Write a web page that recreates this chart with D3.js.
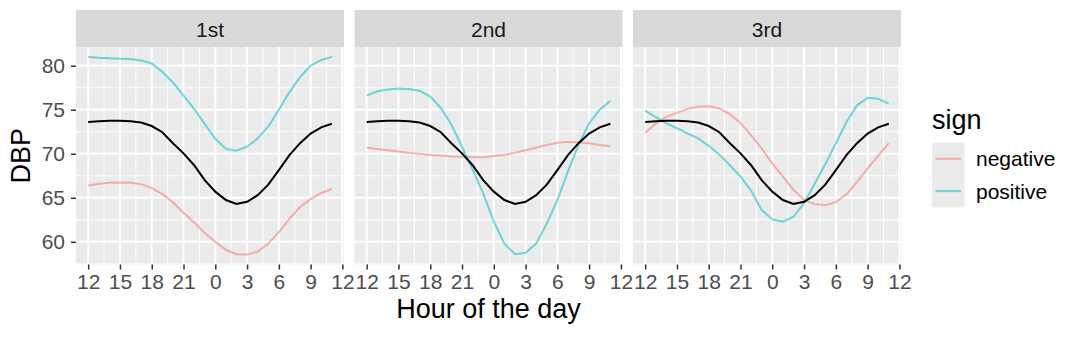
<!DOCTYPE html>
<html lang="en">
<head>
    <meta charset="UTF-8">
    <title>DBP by hour of the day</title>
    <script src="https://d3js.org/d3.v7.min.js"></script>
    <style>
        body { margin: 0; background: #fff; }
        svg text { font-family: "Liberation Sans", Arial, sans-serif; }
    </style>
</head>
<body>
    <div id="chart"></div>
    <script>
        // hours in plotting order (noon to 11 am), x position = index
        const hours = [12, 13, 14, 15, 16, 17, 18, 19, 20, 21, 22, 23, 0, 1, 2, 3, 4, 5, 6, 7, 8, 9, 10, 11];
        const tickPos = [0, 3, 6, 9, 12, 15, 18, 21, 24];
        const tickLabels = ["12", "15", "18", "21", "0", "3", "6", "9", "12"];
        const facets = ["1st", "2nd", "3rd"];
        const signs = ["negative", "positive"];

        // overall mean (black line, same in every panel)
        const overall = [73.6, 73.7, 73.75, 73.75, 73.7, 73.55, 73.15, 72.45, 71.2, 70.05, 68.7, 67.0,
                         65.7, 64.75, 64.3, 64.55, 65.3, 66.5, 68.15, 69.85, 71.2, 72.3, 73.0, 73.4];

        const neg1st = [66.4, 66.6, 66.7, 66.75, 66.7, 66.55, 66.1, 65.45, 64.5, 63.3, 62.2, 61.0,
                        60.0, 59.1, 58.6, 58.55, 58.9, 59.8, 61.1, 62.6, 63.95, 64.85, 65.55, 66.0];
        const pos1st = [81.0, 80.9, 80.85, 80.8, 80.75, 80.6, 80.25, 79.3, 78.1, 76.6, 75.1, 73.4,
                        71.7, 70.55, 70.35, 70.8, 71.75, 73.1, 75.0, 77.0, 78.7, 80.0, 80.65, 81.0];

        const neg2nd = [70.7, 70.55, 70.4, 70.25, 70.1, 70.0, 69.85, 69.8, 69.7, 69.65, 69.6, 69.6,
                        69.75, 69.9, 70.1, 70.4, 70.7, 71.0, 71.25, 71.35, 71.3, 71.2, 71.0, 70.85];
        const pos2nd = [76.6, 77.1, 77.3, 77.4, 77.35, 77.15, 76.5, 75.2, 73.3, 70.8, 68.2, 65.5,
                        62.3, 59.8, 58.6, 58.75, 59.8, 62.1, 64.7, 68.0, 71.0, 73.45, 75.0, 76.0];

        const neg3rd = [72.4, 73.45, 74.2, 74.65, 75.1, 75.35, 75.4, 75.15, 74.5, 73.5, 72.1, 70.6,
                        68.9, 67.4, 65.9, 64.75, 64.3, 64.15, 64.5, 65.4, 66.8, 68.35, 69.8, 71.2];
        const pos3rd = [74.9, 74.15, 73.45, 72.9, 72.3, 71.75, 70.9, 69.9, 68.7, 67.4, 65.8, 63.6,
                        62.55, 62.3, 62.85, 64.4, 66.6, 68.8, 71.2, 73.6, 75.5, 76.35, 76.25, 75.7];

        const yBreaks = [60, 65, 70, 75, 80];
        const yMinor = [57.5, 62.5, 67.5, 72.5, 77.5, 82.5];

        const seriesByFacet = {
            "1st": { negative: neg1st, positive: pos1st },
            "2nd": { negative: neg2nd, positive: pos2nd },
            "3rd": { negative: neg3rd, positive: pos3rd }
        };
        const colors = { negative: "#F8766D", positive: "#00BFC4" };

        const svg = d3.select("#chart").append("svg")
            .attr("width", 1080)
            .attr("height", 338);

        // layout
        const panelW = 268, gap = 10.5, left = 76,
              stripTop = 10, stripH = 37, panelTop = 47, panelH = 217.5;

        // scales (ggplot-style 5% expansion)
        const xExt = [0, hours.length - 1];
        const xPad = (xExt[1] - xExt[0]) * 0.05;
        const x = d3.scaleLinear()
            .domain([xExt[0] - xPad, xExt[1] + xPad])
            .range([0, panelW]);

        const allVals = [overall].concat(...facets.map(f => [seriesByFacet[f].negative, seriesByFacet[f].positive])).flat();
        const yExt = d3.extent(allVals);
        const yPad = (yExt[1] - yExt[0]) * 0.05;
        const y = d3.scaleLinear()
            .domain([yExt[0] - yPad, yExt[1] + yPad])
            .range([panelH, 0]);

        const xMinor = d3.range(1.5, 24, 3);

        const line = d3.line()
            .x((d, i) => x(i))
            .y(d => y(d));

        facets.forEach((f, fi) => {
            const g = svg.append("g")
                .attr("transform", `translate(${left + fi * (panelW + gap)},${panelTop})`);

            // strip
            svg.append("rect")
                .attr("x", left + fi * (panelW + gap))
                .attr("y", stripTop)
                .attr("width", panelW)
                .attr("height", stripH)
                .attr("fill", "#D9D9D9");
            svg.append("text")
                .attr("x", left + fi * (panelW + gap) + panelW / 2)
                .attr("y", 37)
                .attr("text-anchor", "middle")
                .style("font-size", "21px")
                .style("fill", "#1A1A1A")
                .text(f);

            // panel background + grid
            g.append("rect")
                .attr("width", panelW)
                .attr("height", panelH)
                .attr("fill", "#EBEBEB");

            g.selectAll(".ymin").data(yMinor.filter(v => y(v) >= 0 && y(v) <= panelH)).enter()
                .append("line")
                .attr("x1", 0).attr("x2", panelW)
                .attr("y1", d => y(d)).attr("y2", d => y(d))
                .attr("stroke", "#fff").attr("stroke-width", 1);
            g.selectAll(".xmin").data(xMinor).enter()
                .append("line")
                .attr("y1", 0).attr("y2", panelH)
                .attr("x1", d => x(d)).attr("x2", d => x(d))
                .attr("stroke", "#fff").attr("stroke-width", 1);
            g.selectAll(".ymaj").data(yBreaks).enter()
                .append("line")
                .attr("x1", 0).attr("x2", panelW)
                .attr("y1", d => y(d)).attr("y2", d => y(d))
                .attr("stroke", "#fff").attr("stroke-width", 2);
            g.selectAll(".xmaj").data(tickPos).enter()
                .append("line")
                .attr("y1", 0).attr("y2", panelH)
                .attr("x1", d => x(d)).attr("x2", d => x(d))
                .attr("stroke", "#fff").attr("stroke-width", 2);

            // lines
            signs.forEach(s => {
                g.append("path")
                    .datum(seriesByFacet[f][s])
                    .attr("d", line)
                    .attr("fill", "none")
                    .attr("stroke", colors[s])
                    .attr("stroke-opacity", 0.55)
                    .attr("stroke-width", 2);
            });
            g.append("path")
                .datum(overall)
                .attr("d", line)
                .attr("fill", "none")
                .attr("stroke", "#000")
                .attr("stroke-width", 2);

            // x axis
            const xAxis = g.append("g")
                .attr("transform", `translate(0,${panelH})`)
                .call(d3.axisBottom(x).tickValues(tickPos)
                    .tickFormat((d, i) => tickLabels[i])
                    .tickSize(5).tickPadding(5));
            xAxis.select(".domain").remove();
            xAxis.selectAll("line").attr("stroke", "#333").attr("stroke-width", 1.5);
            xAxis.selectAll("text")
                .attr("font-family", null)
                .style("font-size", "21px")
                .style("fill", "#4D4D4D");

            // y axis (first panel only)
            if (fi === 0) {
                const yAxis = g.append("g")
                    .call(d3.axisLeft(y).tickValues(yBreaks).tickSize(5).tickPadding(6));
                yAxis.select(".domain").remove();
                yAxis.selectAll("line").attr("stroke", "#333").attr("stroke-width", 1.5);
                yAxis.selectAll("text")
                    .attr("font-family", null)
                    .style("font-size", "21px")
                    .style("fill", "#4D4D4D");
            }
        });

        // axis titles
        const plotRight = left + 3 * panelW + 2 * gap;
        svg.append("text")
            .attr("x", (left + plotRight) / 2)
            .attr("y", 318)
            .attr("text-anchor", "middle")
            .style("font-size", "27px")
            .style("fill", "#000")
            .text("Hour of the day");

        svg.append("text")
            .attr("transform", `translate(30,${panelTop + panelH / 2}) rotate(-90)`)
            .attr("text-anchor", "middle")
            .style("font-size", "27px")
            .style("fill", "#000")
            .text("DBP");

        // legend
        const legend = svg.append("g").attr("transform", "translate(932,0)");
        legend.append("text")
            .attr("x", 0)
            .attr("y", 129)
            .style("font-size", "27px")
            .style("fill", "#000")
            .text("sign");
        signs.forEach((s, i) => {
            const ky = 142.7 + i * 32.3;
            legend.append("rect")
                .attr("x", 0).attr("y", ky)
                .attr("width", 32.5).attr("height", 32.3)
                .attr("fill", "#EBEBEB");
            legend.append("line")
                .attr("x1", 3.5).attr("x2", 29)
                .attr("y1", ky + 16.15).attr("y2", ky + 16.15)
                .attr("stroke", colors[s])
                .attr("stroke-opacity", 0.55)
                .attr("stroke-width", 2);
            legend.append("text")
                .attr("x", 44)
                .attr("y", ky + 16.15)
                .attr("dy", "0.35em")
                .style("font-size", "21px")
                .style("fill", "#000")
                .text(s);
        });
    </script>
</body>
</html>
